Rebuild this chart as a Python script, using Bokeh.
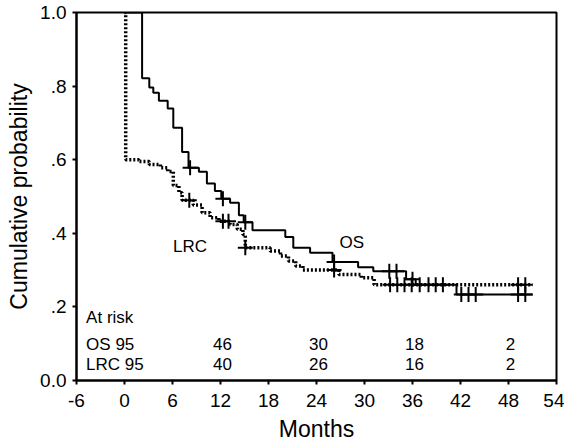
from bokeh.plotting import figure
from bokeh.models import Range1d, FixedTicker, CustomJSTickFormatter
from bokeh.core.properties import value
from bokeh.embed import file_html
from bokeh.resources import INLINE

# ---- data ----
os_time = [0, 2.2, 3.1, 3.6, 4.3, 5.4, 6.1, 7.2, 8.0, 9.3, 10.3, 11.3, 12.1, 13.2, 14.3,
           14.9, 16.0, 20.1, 21.1, 23.2, 26.0, 29.2, 31.1, 35.2, 36.4, 41.5, 51.0]
os_surv = [1.0, 0.821, 0.796, 0.782, 0.760, 0.739, 0.687, 0.621, 0.578, 0.567, 0.535,
           0.515, 0.494, 0.483, 0.449, 0.430, 0.408, 0.390, 0.361, 0.347, 0.322, 0.308,
           0.297, 0.275, 0.260, 0.234, 0.234]
os_censor = [8.2, 12.3, 15.1, 26.2, 33.1, 34.0, 36.0, 42.1, 43.0, 43.9, 49.2, 50.1]

lrc_time = [0, 0.15, 1.8, 3.1, 4.5, 5.4, 6.1, 6.8, 7.2, 8.6, 9.7, 10.7, 11.8, 13.2, 14.1,
            14.8, 15.1, 18.2, 19.5, 20.5, 21.4, 22.3, 26.8, 29.6, 31.2, 51.0]
lrc_surv = [1.0, 0.600, 0.595, 0.587, 0.578, 0.568, 0.530, 0.510, 0.490, 0.477, 0.456,
            0.442, 0.433, 0.424, 0.411, 0.397, 0.361, 0.352, 0.338, 0.325, 0.311, 0.300,
            0.288, 0.279, 0.260, 0.260]
lrc_censor = [8.1, 12.3, 13.0, 15.1, 26.2, 33.2, 34.1, 35.0, 35.9, 36.9, 38.0, 38.9,
              39.8, 49.2, 50.1]

risk_months = [12, 24, 36, 48]
os_at_risk = [46, 30, 18, 2]
lrc_at_risk = [40, 26, 16, 2]
risk_rows = ["At risk", "OS 95", "LRC 95"]

x_ticks = [-6, 0, 6, 12, 18, 24, 30, 36, 42, 48, 54]
y_ticks = [0.0, 0.2, 0.4, 0.6, 0.8, 1.0]


def step_value(times, surv, t):
    v = surv[0]
    for ti, si in zip(times, surv):
        if ti <= t:
            v = si
    return v


FONT = "Liberation Sans"

p = figure(width=564, height=446, output_backend="svg", toolbar_location=None,
           x_range=Range1d(-6, 54), y_range=Range1d(0, 1.0),
           min_border_left=76, min_border_right=8, min_border_top=12, min_border_bottom=66)
p.background_fill_color = "white"
p.border_fill_color = "white"
p.outline_line_color = "black"
p.outline_line_width = 2
p.xgrid.visible = False
p.ygrid.visible = False

for ax in (p.xaxis[0], p.yaxis[0]):
    ax.axis_line_width = 2
    ax.axis_line_color = "black"
    ax.major_tick_line_width = 2
    ax.major_tick_line_color = "black"
    ax.major_tick_out = 4
    ax.major_tick_in = 0
    ax.minor_tick_line_color = None
    ax.major_label_text_font = FONT
    ax.major_label_text_font_size = "19px"
    ax.major_label_text_color = "black"
    ax.axis_label_text_font = FONT
    ax.axis_label_text_font_size = "23px"
    ax.axis_label_text_font_style = "normal"
    ax.axis_label_text_color = "black"

p.xaxis.major_label_standoff = 9
p.xaxis.axis_label_standoff = 6
p.yaxis.major_label_standoff = 6
p.yaxis.axis_label_standoff = 5

p.xaxis.ticker = FixedTicker(ticks=x_ticks)
p.yaxis.ticker = FixedTicker(ticks=y_ticks)
p.xaxis.formatter = CustomJSTickFormatter(code="return String(tick);")
p.yaxis.formatter = CustomJSTickFormatter(code="""
    if (Math.abs(tick) < 1e-9) return "0.0";
    if (Math.abs(tick - 1) < 1e-9) return "1.0";
    return tick.toFixed(1).replace(/^0/, "");
""")
p.xaxis.axis_label = "Months"
p.yaxis.axis_label = "Cumulative probability"

# curves
p.step(os_time, os_surv, mode="after", line_color="black", line_width=2)
p.step(lrc_time, lrc_surv, mode="after", line_color="black", line_width=3.5, line_dash="2 2")

# censor marks
p.scatter(os_censor, [step_value(os_time, os_surv, t) for t in os_censor],
          marker="cross", size=15, line_color="black", line_width=2)
p.scatter(lrc_censor, [step_value(lrc_time, lrc_surv, t) for t in lrc_censor],
          marker="cross", size=15, line_color="black", line_width=2)

# curve labels
p.text(x=[8.2, 28.4], y=[0.365, 0.374], text=["LRC", "OS"], text_font=value(FONT),
       text_font_size="17px", text_align="center", text_baseline="middle", text_color="black")

# at-risk table
p.text(x=[-4.8, -4.8, -4.8], y=[0.17, 0.098, 0.044], text=risk_rows, text_font=value(FONT),
       text_font_size="17px", text_align="left", text_baseline="middle", text_color="black")
p.text(x=risk_months, y=[0.098] * len(risk_months), text=[str(v) for v in os_at_risk],
       text_font=value(FONT), text_font_size="17px", text_align="center",
       text_baseline="middle", text_color="black", x_offset=2)
p.text(x=risk_months, y=[0.044] * len(risk_months), text=[str(v) for v in lrc_at_risk],
       text_font=value(FONT), text_font_size="17px", text_align="center",
       text_baseline="middle", text_color="black", x_offset=2)

open("out.html", "w").write(file_html(p, INLINE))
